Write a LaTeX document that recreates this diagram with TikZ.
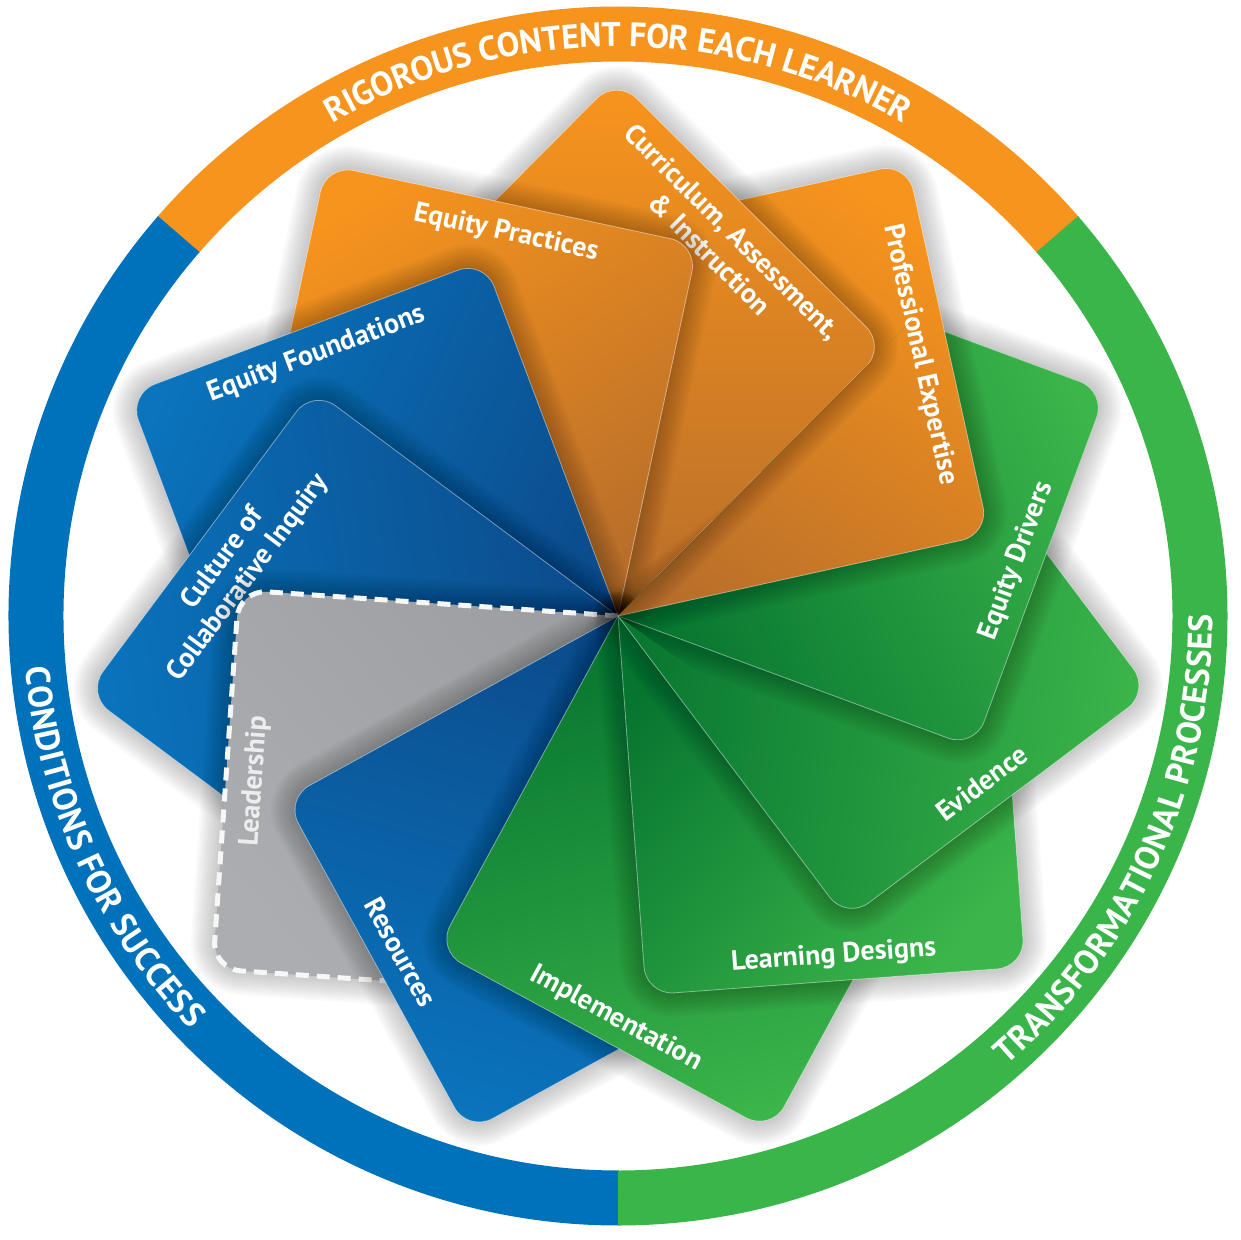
\documentclass[tikz,border=0pt]{standalone}
\usepackage{fontspec}
\setmainfont{PT Sans}
\usetikzlibrary{decorations.text}
\definecolor{ringO}{HTML}{F7941D}
\definecolor{ringB}{HTML}{0072BC}
\definecolor{ringG}{HTML}{39B54A}
\definecolor{oL}{HTML}{F7941D}
\definecolor{oD}{HTML}{B86E2A}
\definecolor{bL}{HTML}{0A74BD}
\definecolor{bD}{HTML}{0B4A8A}
\definecolor{gL}{HTML}{3CB54A}
\definecolor{gD}{HTML}{067530}
\definecolor{grL}{HTML}{ABADB0}
\definecolor{grD}{HTML}{9D9FA2}
\definecolor{leadtxt}{HTML}{EDEDED}
\newcommand\cardfont{\fontsize{28}{32}\selectfont\bfseries}
\newcommand\ringfont{\fontsize{34}{40}\selectfont\bfseries}
\tikzset{lbl/.style={text=white, font=\cardfont, inner sep=0pt},
  ringtext/.style={decorate, decoration={text along path, text align=center, text color=white, raise=-12.5pt, text={|\ringfont|#1}}}}
\def\cs{380}
\def\crad{28}
\newcommand\cardpath[1]{\path[#1] (0,0) -- (\cs-\crad,0) arc[start angle=-90,end angle=0,radius=\crad] -- (\cs,\cs-\crad) arc[start angle=0,end angle=90,radius=\crad] -- (\crad,\cs) arc[start angle=90,end angle=180,radius=\crad] -- cycle;}
\newcommand\cardshadow[1]{\begin{scope}[rotate=#1-45]\foreach \w in {4,8,...,48}{\cardpath{draw=black,line width=\w pt,draw opacity=0.02,line join=round}}\end{scope}}
\newcommand\card[4]{\pgfmathsetmacro\shang{#1-90}%
  \begin{scope}[rotate=#1-45]
  \cardpath{top color=#2, bottom color=#3, shading angle=\shang}
  \cardpath{draw=white, draw opacity=0.45, line width=0.8pt}
  #4
  \end{scope}}
\newcommand\graycard[1]{\pgfmathsetmacro\shang{#1-90}%
  \begin{scope}[rotate=#1-45]
  \cardpath{top color=grL, bottom color=grD, shading angle=\shang}
  \cardpath{draw=white!94!gray, line width=5pt, dash pattern=on 13pt off 8pt}
  \node[lbl, text=leadtxt, rotate=#1-135, anchor=base] (t6) at (\cs-36,\cs/2) {Leadership};
  \end{scope}}
\newcommand\lin[3]{\node[lbl, rotate=#2+45, anchor=base] (#1) at (\cs-18,\cs/2) {#3};}
\newcommand\lout[3]{\node[lbl, rotate=#2-135, anchor=base] (#1) at (\cs-36,\cs/2) {#3};}
\newcommand\louttwo[4]{\node[lbl, rotate=#2-135, anchor=base] (#1a) at (\cs-36,\cs/2) {#3};\node[lbl, rotate=#2-135, anchor=base] (#1b) at (\cs-68,\cs/2) {#4};}
\newcommand\cardA{\card{24.7}{gL}{gD}{\lin{t0}{24.7}{Equity Drivers}}}
\newcommand\cardB{\card{57.43}{oL}{oD}{\lout{t1}{57.43}{Professional Expertise}}}
\begin{document}
\begin{tikzpicture}[x=1pt,y=1pt]
\useasboundingbox (-618,-623) rectangle (623,616);
% ring
\draw[ringO, line width=55pt] (40.9:582) arc[start angle=40.9,end angle=139.1,radius=582];
\draw[ringB, line width=55pt] (139:582) arc[start angle=139,end angle=270.1,radius=582];
\draw[ringG, line width=55pt] (270:582) arc[start angle=270,end angle=401,radius=582];
\path[ringtext={RIGOROUS CONTENT FOR EACH LEARNER}] (139:582) arc[start angle=139,end angle=41,radius=582];
\path[ringtext={CONDITIONS FOR SUCCESS}] (139:582) arc[start angle=139,end angle=270,radius=582];
\path[ringtext={TRANSFORMATIONAL PROCESSES}] (270:582) arc[start angle=270,end angle=401,radius=582];
% cards
\begin{scope}[even odd rule]
\clip (-700,-700) rectangle (700,700) (0,0) -- (-35.3:1500) -- (5:1500) -- (45.15:1500) -- cycle;
\cardshadow{24.7}
\end{scope}
\cardA
\begin{scope}[even odd rule]
\clip (-700,-700) rectangle (700,700) (0,0) -- (-35.3:1500) -- (5:1500) -- (45.15:1500) -- cycle;
\cardshadow{57.43}
\end{scope}
\cardB
\cardshadow{90.15}
\card{90.15}{oL}{oD}{\louttwo{t2}{90.15}{Curriculum, Assessment,}{\& Instruction}}
\cardshadow{122.88}
\card{122.88}{oL}{oD}{\lout{t3}{122.88}{Equity Practices}}
\cardshadow{155.61}
\card{155.61}{bL}{bD}{\lout{t4}{155.61}{Equity Foundations}}
\cardshadow{188.34}
\card{188.34}{bL}{bD}{\louttwo{t5}{188.34}{Culture of}{Collaborative Inquiry}}
\cardshadow{221.06}
\graycard{221.06}
\cardshadow{253.79}
\card{253.79}{bL}{bD}{\lin{t7}{253.79}{Resources}}
\cardshadow{286.52}
\card{286.52}{gL}{gD}{\lin{t8}{286.52}{Implementation}}
\cardshadow{319.24}
\card{319.24}{gL}{gD}{\lin{t9}{319.24}{Learning Designs}}
\cardshadow{351.97}
\card{351.97}{gL}{gD}{\lin{t10}{351.97}{Evidence}}
% wrap-around fix: Equity Drivers and Professional Expertise above Evidence
\begin{scope}
\clip (0,0) -- (-35.3:1500) -- (5:1500) -- (45.15:1500) -- cycle;
\cardshadow{24.7}
\cardA
\cardshadow{57.43}
\cardB
\cardshadow{90.15}
\end{scope}
\end{tikzpicture}
\end{document}
